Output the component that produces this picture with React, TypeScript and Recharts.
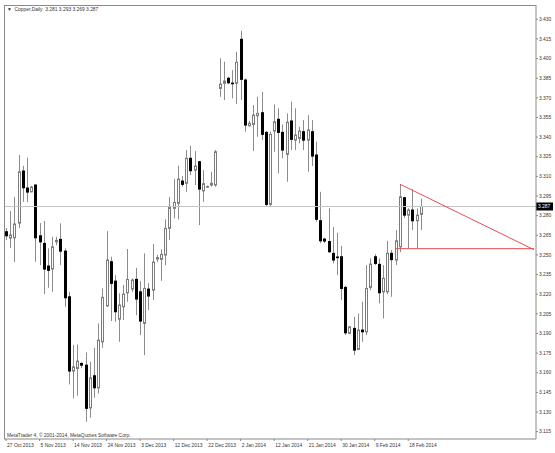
import React from 'react'
import { ComposedChart, Bar, XAxis, YAxis, ReferenceLine } from 'recharts'

// Copper, Daily — OHLC (oldest first)
const opens = [
  3.2677, 3.2629, 3.2631, 3.2743, 3.3141, 3.3011, 3.2982, 3.3034, 3.2646, 3.2588,
  3.2415, 3.2392, 3.2600, 3.2619, 3.2529, 3.2180, 3.1613, 3.1633, 3.1671, 3.1658,
  3.1332, 3.1577, 3.1485, 3.1836, 3.2111, 3.2448, 3.2300, 3.2010, 3.2104, 3.2211,
  3.2239, 3.2313, 3.2218, 3.1977, 3.2239, 3.2231, 3.2468, 3.2466, 3.2499, 3.2703,
  3.2856, 3.2894, 3.3064, 3.3047, 3.3238, 3.3148, 3.3212, 3.2990, 3.3020, 3.3034,
  3.3034, 3.3772, 3.3811, 3.3849, 3.3812, 3.3811, 3.4147, 3.3836, 3.3487, 3.3497,
  3.3563, 3.3586, 3.3436, 3.2886, 3.3446, 3.3536, 3.3436, 3.3268, 3.3523, 3.3377,
  3.3390, 3.3441, 3.3377, 3.3441, 3.3263, 3.2761, 3.2621, 3.2602, 3.2512, 3.2484,
  3.2486, 3.2252, 3.1901, 3.1939, 3.1778, 3.1926, 3.1913, 3.2252, 3.2486, 3.2428,
  3.2218, 3.2218, 3.2512, 3.2461, 3.2562, 3.2937, 3.2804, 3.2843, 3.2761, 3.281,
]
const highs = [
  3.2705, 3.2835, 3.2944, 3.3263, 3.3181, 3.3242, 3.3028, 3.3039, 3.2743, 3.2759,
  3.2550, 3.2639, 3.2639, 3.2741, 3.2550, 3.2218, 3.1811, 3.1816, 3.1681, 3.1755,
  3.1684, 3.1791, 3.1977, 3.2244, 3.2682, 3.2486, 3.2346, 3.2206, 3.2270, 3.2545,
  3.2321, 3.2402, 3.2300, 3.2512, 3.2285, 3.2583, 3.2500, 3.2542, 3.2772, 3.2944,
  3.3079, 3.3181, 3.3102, 3.3301, 3.3334, 3.3293, 3.3217, 3.3148, 3.3030, 3.3135,
  3.3301, 3.4002, 3.3976, 3.3861, 3.3912, 3.4052, 3.4212, 3.3849, 3.3523, 3.3645,
  3.3708, 3.3746, 3.3446, 3.3441, 3.3650, 3.3620, 3.3497, 3.3581, 3.3670, 3.3620,
  3.3479, 3.3530, 3.3568, 3.3530, 3.3364, 3.2982, 3.2632, 3.2856, 3.2713, 3.2669,
  3.2568, 3.2262, 3.1956, 3.2027, 3.2053, 3.2142, 3.2422, 3.2474, 3.2506, 3.2474,
  3.2422, 3.2608, 3.2537, 3.2690, 3.3041, 3.2944, 3.2856, 3.3001, 3.2856, 3.293,
]
const lows = [
  3.2613, 3.2552, 3.2445, 3.2705, 3.2906, 3.2904, 3.2978, 3.2448, 3.2422, 3.2201,
  3.2249, 3.2218, 3.2575, 3.2422, 3.2104, 3.1511, 3.1404, 3.1424, 3.1635, 3.1225,
  3.1256, 3.1409, 3.1442, 3.1791, 3.2104, 3.1995, 3.1989, 3.1836, 3.2002, 3.2142,
  3.2218, 3.2040, 3.1888, 3.1735, 3.2079, 3.2155, 3.2445, 3.2302, 3.2422, 3.2613,
  3.2779, 3.2772, 3.3021, 3.2982, 3.3110, 3.3034, 3.2728, 3.2906, 3.3014, 3.3021,
  3.3021, 3.3708, 3.3683, 3.3803, 3.3696, 3.3652, 3.3683, 3.3441, 3.3479, 3.3293,
  3.3403, 3.3377, 3.2868, 3.2868, 3.3288, 3.3123, 3.3238, 3.3059, 3.3301, 3.3301,
  3.3352, 3.3301, 3.3135, 3.3179, 3.2755, 3.2590, 3.2590, 3.2516, 3.2435, 3.2346,
  3.2155, 3.1888, 3.1895, 3.1735, 3.1773, 3.1836, 3.1888, 3.2231, 3.2422, 3.2130,
  3.2015, 3.2201, 3.2180, 3.2422, 3.2522, 3.2782, 3.2547, 3.2690, 3.2547, 3.269,
]
const closes = [
  3.2646, 3.2652, 3.2736, 3.3135, 3.3013, 3.2980, 3.3018, 3.2631, 3.2600, 3.2392,
  3.2382, 3.2562, 3.2611, 3.2529, 3.2173, 3.1613, 3.1645, 3.1689, 3.1658, 3.1328,
  3.1561, 3.1485, 3.1849, 3.2176, 3.2461, 3.2283, 3.2066, 3.2117, 3.2201, 3.2313,
  3.2308, 3.2163, 3.1995, 3.2244, 3.2186, 3.2445, 3.2480, 3.2504, 3.2703, 3.2862,
  3.2901, 3.3079, 3.3039, 3.3238, 3.3143, 3.3179, 3.3003, 3.3044, 3.3022, 3.3047,
  3.3288, 3.3805, 3.3828, 3.3815, 3.3808, 3.3971, 3.3841, 3.3492, 3.3505, 3.3568,
  3.3581, 3.3421, 3.2886, 3.3421, 3.3517, 3.3436, 3.3301, 3.3513, 3.3383, 3.3416,
  3.3446, 3.3377, 3.3454, 3.3255, 3.2772, 3.2608, 3.2606, 3.2524, 3.2461, 3.2480,
  3.2244, 3.1905, 3.1951, 3.1773, 3.1926, 3.1913, 3.2244, 3.2430, 3.2435, 3.2211,
  3.2321, 3.2512, 3.2464, 3.2608, 3.2944, 3.2804, 3.2843, 3.2761, 3.2804, 3.287,
]

// one label every 8 bars, starting at the first bar
const dateLabels = [
  '27 Oct 2013', '5 Nov 2013', '14 Nov 2013', '24 Nov 2013', '3 Dec 2013', '12 Dec 2013',
  '22 Dec 2013', '2 Jan 2014', '12 Jan 2014', '21 Jan 2014', '30 Jan 2014', '9 Feb 2014', '18 Feb 2014',
]
const priceTicks = [
  3.115, 3.130, 3.145, 3.160, 3.175, 3.190, 3.205, 3.220, 3.235, 3.250, 3.265,
  3.280, 3.295, 3.310, 3.325, 3.340, 3.355, 3.370, 3.385, 3.400, 3.415, 3.430,
]
const lastPrice = 3.287

// triangle drawn on the chart: resistance from the 10 Feb high, support at the lows
const resistance = [{ bar: 94, price: 3.3041 }, { bar: 126, price: 3.2540 }]
const support = [{ bar: 93, price: 3.2548 }, { bar: 126, price: 3.2548 }]

const SLOTS = 127 // bars + empty space on the right (chart shift)
const FONT = '"Liberation Sans", Arial, sans-serif'

const data = Array.from({ length: SLOTS }, (_, i) =>
  i < opens.length
    ? { slot: String(i), o: opens[i], h: highs[i], l: lows[i], c: closes[i], range: [lows[i], highs[i]] }
    : { slot: String(i), range: null }
)

function Candle(props: any) {
  const { x, y, width, height, payload } = props
  if (!payload || payload.o == null) return null
  const top = Math.min(y, y + height)
  const span = Math.abs(height)
  const k = payload.h > payload.l ? span / (payload.h - payload.l) : 0
  const cx = Math.round(x + width / 2) + 0.5
  const bTop = top + (payload.h - Math.max(payload.o, payload.c)) * k
  const bBot = top + (payload.h - Math.min(payload.o, payload.c)) * k
  const bull = payload.c >= payload.o
  return (
    <g>
      <line x1={cx} x2={cx} y1={top} y2={top + span} stroke="#8c8c8c" strokeWidth={1} />
      <rect
        x={cx - 1}
        y={bTop}
        width={2}
        height={Math.max(bBot - bTop, 0.6)}
        fill={bull ? '#ffffff' : '#000000'}
        stroke={bull ? '#7c7c7c' : '#000000'}
        strokeWidth={1}
      />
    </g>
  )
}

function DateTick(props: any) {
  const { x, y, payload } = props
  const label = dateLabels[Number(payload.value) / 8]
  return (
    <text x={x + 1} y={y + 4} fontSize={4.9} fontFamily={FONT} fill="#333" textAnchor="start">
      {label}
    </text>
  )
}

function PriceTag(props: any) {
  const vb = props.viewBox || {}
  const left = vb.x + vb.width
  return (
    <g>
      <rect x={left} y={vb.y - 4} width={17} height={8} fill="#000" />
      <text x={left + 2} y={vb.y + 1.8} fontSize={4.9} fontFamily={FONT} fill="#fff">
        {lastPrice.toFixed(3)}
      </text>
    </g>
  )
}

export default function App() {
  return (
    <div style={{ position: 'absolute', left: 0, top: 0, width: 555, height: 453, background: '#fff' }}>
      <ComposedChart
        width={555}
        height={453}
        data={data}
        margin={{ top: 5, right: 0, left: 4, bottom: 0 }}
        barCategoryGap={0}
      >
        <XAxis
          dataKey="slot"
          height={14}
          ticks={dateLabels.map((_, k) => String(k * 8))}
          interval={0}
          tick={<DateTick />}
          tickSize={2}
          axisLine={{ stroke: '#8a8a8a' }}
          tickLine={{ stroke: '#8a8a8a' }}
        />
        <YAxis
          orientation="right"
          type="number"
          width={19}
          domain={[3.1094, 3.4409]}
          allowDataOverflow
          ticks={priceTicks}
          interval={0}
          tickSize={2}
          tickMargin={1}
          tickFormatter={(v: number) => v.toFixed(3)}
          tick={{ fontSize: 4.9, fill: '#333', fontFamily: FONT }}
          axisLine={{ stroke: '#8a8a8a' }}
          tickLine={{ stroke: '#8a8a8a' }}
        />
        <ReferenceLine y={lastPrice} stroke="#c4c4c4" strokeWidth={1} label={<PriceTag />} />
        <Bar dataKey="range" shape={<Candle />} isAnimationActive={false} />
        <ReferenceLine
          segment={resistance.map((p) => ({ x: String(p.bar), y: p.price }))}
          stroke="#e25050"
          strokeWidth={1}
        />
        <ReferenceLine
          segment={support.map((p) => ({ x: String(p.bar), y: p.price }))}
          stroke="#e25050"
          strokeWidth={1}
        />
      </ComposedChart>
      {/* chart frame, top and left */}
      <div
        style={{
          position: 'absolute', left: 4, top: 5, width: 532, height: 434,
          borderLeft: '1px solid #8a8a8a', borderTop: '1px solid #8a8a8a',
          boxSizing: 'border-box', pointerEvents: 'none',
        }}
      />
      <div style={{ position: 'absolute', left: 7, top: 7, fontSize: 4.9, fontFamily: FONT, color: '#333', whiteSpace: 'pre', lineHeight: '6px' }}>
        {'▼  Copper,Daily  3.281 3.293 3.269 3.287'}
      </div>
      <div style={{ position: 'absolute', left: 7, top: 433, fontSize: 4.9, fontFamily: FONT, color: '#333', whiteSpace: 'pre', lineHeight: '6px' }}>
        {'MetaTrader 4, © 2001-2014, MetaQuotes Software Corp.'}
      </div>
    </div>
  )
}
